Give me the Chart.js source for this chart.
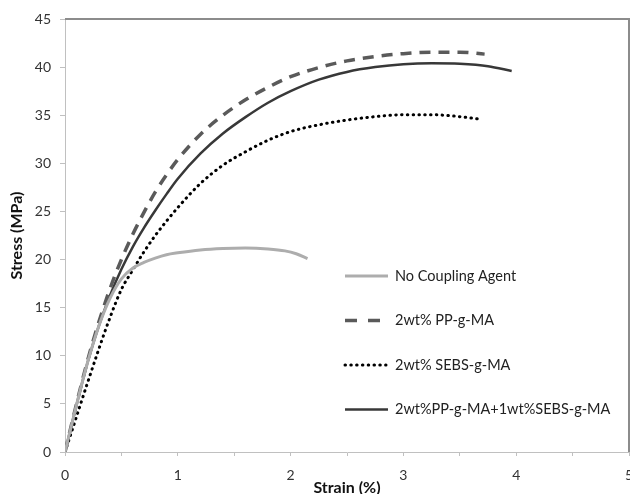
<!DOCTYPE html>
<html>
<head>
<meta charset="utf-8">
<script src="https://cdn.jsdelivr.net/npm/chart.js@4"></script>
<style>
  html, body { margin: 0; padding: 0; background: #fff; }
  #wrap { width: 630px; height: 494px; }
</style>
</head>
<body>
<div id="wrap"><canvas id="chartStress"></canvas></div>
<script>
// ==================== DATOS ====================
const seriesNames = ['No Coupling Agent', '2wt% PP-g-MA', '2wt% SEBS-g-MA', '2wt%PP-g-MA+1wt%SEBS-g-MA'];

const noAgentStrain = [0, 0.1, 0.2, 0.3, 0.4, 0.5, 0.6, 0.7, 0.8, 0.9, 1.0, 1.2, 1.4, 1.6, 1.8, 1.95, 2.05, 2.15];
const noAgentStress = [0, 4.8, 9.3, 13.1, 16.0, 18.0, 19.1, 19.7, 20.15, 20.5, 20.7, 21.0, 21.15, 21.2, 21.1, 20.9, 20.6, 20.1];

const ppStrain = [0, 0.1, 0.2, 0.3, 0.4, 0.5, 0.6, 0.7, 0.8, 0.9, 1.0, 1.2, 1.4, 1.6, 1.8, 2.0, 2.25, 2.5, 2.75, 3.0, 3.25, 3.5, 3.72];
const ppStress = [0, 4.9, 9.5, 13.5, 17.0, 20.0, 22.6, 24.9, 27.0, 28.8, 30.4, 33.0, 35.0, 36.6, 37.9, 39.0, 39.95, 40.65, 41.1, 41.4, 41.55, 41.55, 41.35];

const sebsStrain = [0, 0.1, 0.2, 0.3, 0.4, 0.5, 0.6, 0.7, 0.8, 0.9, 1.0, 1.2, 1.4, 1.6, 1.8, 2.0, 2.25, 2.5, 2.75, 3.0, 3.25, 3.5, 3.67];
const sebsStress = [0, 3.6, 7.2, 10.7, 14.0, 16.9, 18.9, 20.8, 22.5, 24.0, 25.4, 27.9, 29.8, 31.2, 32.4, 33.3, 34.0, 34.5, 34.85, 35.05, 35.05, 34.85, 34.6];

const mixStrain = [0, 0.1, 0.2, 0.3, 0.4, 0.5, 0.6, 0.7, 0.8, 0.9, 1.0, 1.2, 1.4, 1.6, 1.8, 2.0, 2.25, 2.5, 2.75, 3.0, 3.25, 3.5, 3.75, 3.96];
const mixStress = [0, 4.8, 9.3, 13.1, 16.3, 19.0, 21.3, 23.3, 25.1, 26.8, 28.4, 31.0, 33.1, 34.8, 36.3, 37.5, 38.7, 39.5, 40.0, 40.3, 40.4, 40.35, 40.1, 39.6];

const xTicks = [0, 1, 2, 3, 4, 5];
const yTicks = [0, 5, 10, 15, 20, 25, 30, 35, 40, 45];

const toPoints = (xs, ys) => xs.map((x, i) => ({ x, y: ys[i] }));

// ==================== LEYENDA ====================
const legendInside = {
    id: 'legendInside',
    afterDraw(chart) {
        const { ctx, chartArea } = chart;
        const x0 = chartArea.left + 280;
        ctx.save();
        ctx.font = '14.5px Lato, "Open Sans", sans-serif';
        ctx.fillStyle = '#222';
        ctx.textBaseline = 'middle';
        chart.data.datasets.forEach((ds, i) => {
            const y = chartArea.top + 257 + i * 44.5;
            const len = ds.legendLen || 43;
            ctx.beginPath();
            ctx.strokeStyle = ds.borderColor;
            ctx.lineWidth = ds.borderWidth;
            ctx.lineCap = ds.borderCapStyle || 'butt';
            ctx.setLineDash(ds.legendDash || ds.borderDash || []);
            ctx.moveTo(x0, y);
            ctx.lineTo(x0 + len, y);
            ctx.stroke();
            ctx.setLineDash([]);
            ctx.fillText(ds.label, x0 + 50, y);
        });
        ctx.restore();
    }
};

// marco superior y derecho
const frame = {
    id: 'frame',
    beforeDatasetsDraw(chart) {
        const { ctx, chartArea: a } = chart;
        ctx.save();
        ctx.strokeStyle = '#8c8c8c';
        ctx.lineWidth = 2;
        ctx.beginPath();
        ctx.moveTo(a.left, a.top);
        ctx.lineTo(a.right, a.top);
        ctx.lineTo(a.right, a.bottom);
        ctx.stroke();
        ctx.restore();
    }
};

// ==================== GRÁFICO ====================
const common = { showLine: true, pointRadius: 0, fill: false, cubicInterpolationMode: 'monotone' };
const font = { family: 'Lato, "Open Sans", sans-serif', size: 14 };
const titleFont = { family: 'Lato, "Open Sans", sans-serif', size: 16, weight: 'bold' };

new Chart(document.getElementById('chartStress'), {
    type: 'scatter',
    data: {
        datasets: [
            { ...common, label: seriesNames[0], data: toPoints(noAgentStrain, noAgentStress),
              borderColor: '#adadad', borderWidth: 3 },
            { ...common, label: seriesNames[1], data: toPoints(ppStrain, ppStress),
              borderColor: '#5a5a5a', borderWidth: 3.5, borderDash: [11, 8],
              legendDash: [12, 11], legendLen: 35 },
            { ...common, label: seriesNames[2], data: toPoints(sebsStrain, sebsStress),
              borderColor: '#000', borderWidth: 3, borderDash: [0.5, 5.3], borderCapStyle: 'round',
              legendLen: 41 },
            { ...common, label: seriesNames[3], data: toPoints(mixStrain, mixStress),
              borderColor: '#383838', borderWidth: 2.5 }
        ]
    },
    options: {
        responsive: true,
        maintainAspectRatio: false,
        animation: false,
        layout: { padding: { top: 19, right: 1, left: 0, bottom: 0 } },
        plugins: {
            legend: { display: false },
            tooltip: { enabled: false }
        },
        scales: {
            x: {
                type: 'linear',
                min: 0, max: 5,
                afterFit: s => { s.height = 42; s.paddingRight = 0; s.paddingLeft = 0; },
                border: { color: '#c0c0c0', width: 1 },
                grid: { drawOnChartArea: false, drawTicks: true, tickLength: 4, color: '#c0c0c0' },
                ticks: {
                    stepSize: 0.5,
                    padding: 11,
                    color: '#333',
                    font: font,
                    maxRotation: 0,
                    autoSkip: false,
                    callback: v => xTicks.includes(v) ? String(v) : ''
                },
                title: {
                    display: true, text: 'Strain (%)', color: '#111',
                    font: titleFont,
                    padding: { top: 0, bottom: -3 }
                }
            },
            y: {
                min: 0, max: 45,
                afterFit: s => { s.width = 65; s.paddingTop = 0; s.paddingBottom = 0; },
                border: { color: '#c0c0c0', width: 1 },
                grid: { drawOnChartArea: false, drawTicks: true, tickLength: 5, color: '#c0c0c0' },
                ticks: {
                    stepSize: 5,
                    padding: 9,
                    color: '#333',
                    font: font,
                    callback: v => yTicks.includes(v) ? String(v) : ''
                },
                title: {
                    display: true, text: 'Stress (MPa)', color: '#111',
                    font: titleFont,
                    padding: { top: 7, bottom: 2 }
                }
            }
        }
    },
    plugins: [frame, legendInside]
});
</script>
</body>
</html>
